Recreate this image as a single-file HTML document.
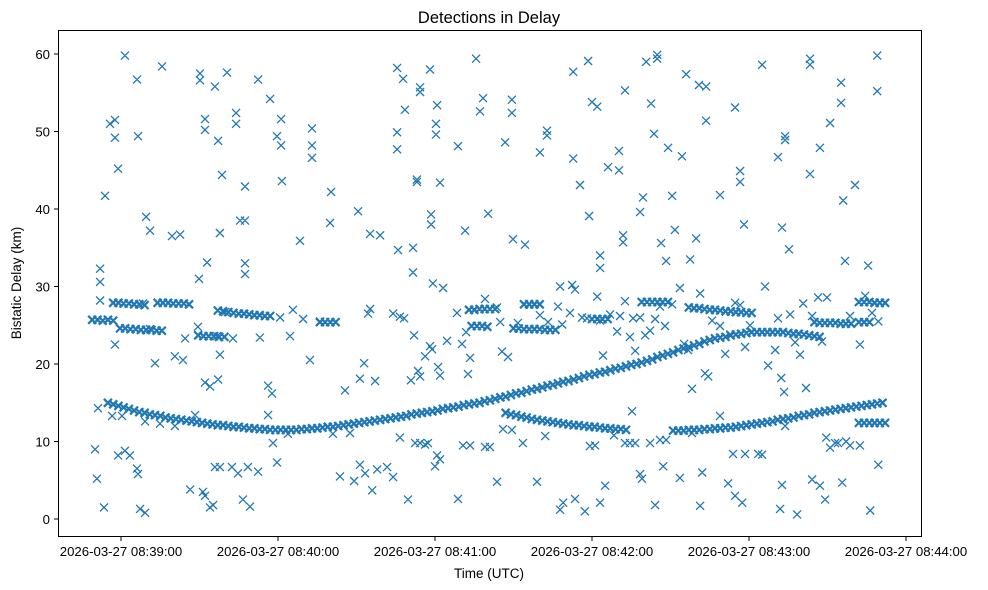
<!DOCTYPE html>
<html><head><meta charset="utf-8"><style>
body{margin:0;background:#fff}
svg{display:block;font-family:"Liberation Sans","DejaVu Sans",sans-serif}
</style></head><body>
<svg id="chart" width="988" height="590" viewBox="0 0 988 590">
<rect width="988" height="590" fill="#fff"/>
<text x="489" y="23" text-anchor="middle" font-size="16.5" fill="#000">Detections in Delay</text>
<text x="489" y="578" text-anchor="middle" font-size="13.5" fill="#000">Time (UTC)</text>
<text x="0" y="0" transform="translate(21,283) rotate(-90)" text-anchor="middle" font-size="13.5" fill="#000">Bistatic Delay (km)</text>
<g id="marks"></g>
<g id="axes"></g>
<rect x="58.5" y="30.5" width="863" height="506" fill="none" stroke="#000" stroke-width="1"/>
</svg>
<script>
// time in seconds after 2026-03-27 08:38:00 UTC, delay in km
const xTickSeconds = [60, 120, 180, 240, 300, 360];
const xTickLabels = ["2026-03-27 08:39:00","2026-03-27 08:40:00","2026-03-27 08:41:00","2026-03-27 08:42:00","2026-03-27 08:43:00","2026-03-27 08:44:00"];
const yTicks = [0, 10, 20, 30, 40, 50, 60];
const trackStep = 2;
const trackStarts = [55, 207, 271, 342, 49, 57, 59.6, 74, 97, 89.5, 136, 193, 194, 214, 210, 240, 259, 277, 325, 342, 342];
const trackDelays = [
 [15.0,14.8,14.6,14.4,14.2,14.0,13.8, 13.7,13.5,13.4,13.3,13.1,13.0,12.9,
  12.8,12.7,12.6,12.5,12.4,12.3,12.2,12.1,12.1,12.0,11.9,11.9,11.8,11.7,11.7,11.6,11.6,11.5,11.5,
  11.5,11.5,11.5,11.5,11.6,11.6,11.7,
  11.7,11.8,11.9,11.9,12.0,12.1,12.2,12.3,12.4,12.5,12.6,12.7,12.8,
  12.9,13.0,13.1,13.2,13.3,13.5,13.6,13.7,13.8,13.9,14.0,14.2,14.3,14.4,14.5,14.7,14.8,14.9,
  15.0,15.2,15.3,15.5,15.7,15.8,16.0,16.2,16.3,16.5,16.7,16.8,17.0,17.2,17.3,17.5,17.7,17.8,18.0,18.2,
  18.4,18.6,18.7,18.9,19.0,19.2,19.4,19.5,19.7,19.9,20.0,20.2,20.4,
  20.6,20.9,21.1,21.3,21.5,21.8,22.0,22.2,22.4,22.6,22.9,
  23.1,23.3,23.4,23.5,23.7,23.8,23.9,24.0,
  24.1,24.1,24.1,24.1,24.1,24.1,24.1,24.0,23.9,23.9,23.8,23.7,23.6,23.5],
 [13.7,13.5,13.4,13.2,13.1,12.9,12.8,12.7,12.6,12.5,12.4,12.3,12.2,12.1,12.1,12.0,11.9,11.9,11.8,11.7,11.7,11.6,11.6,11.5],
 [11.4,11.4,11.4,11.5,11.5,11.5,11.6,11.6,11.7,11.7,11.8,11.8,11.9,12.0,12.1,
  12.2,12.3,12.4,12.5,12.6,12.8,12.9,13.0,13.1,13.3,13.4,13.5,13.7,
  13.8,13.9,14.0,14.1,14.2,14.3,14.4,14.5,14.6,14.7,14.8,14.9,15.0],
 [12.4,12.4,12.4,12.4,12.4,12.4],
 [25.7,25.7,25.6,25.7,25.6],
 [27.9,27.9,27.8,27.8,27.7,27.7,27.6],
 [24.6,24.6,24.5,24.5,24.4,24.4,24.4,24.3,24.3],
 [27.9,27.9,27.9,27.8,27.8,27.8,27.7],
 [26.9,26.8,26.7,26.6,26.5,26.5,26.4,26.3,26.3,26.2,26.2],
 [23.7,23.6,23.6,23.6,23.5,23.5],
 [25.4,25.4,25.4,25.4],
 [27.0,27.0,27.1,27.1,27.1,27.1],
 [24.9,24.9,24.9,24.8],
 [27.7,27.7,27.7,27.7],
 [24.6,24.6,24.5,24.5,24.5,24.5,24.4,24.4,24.4],
 [25.8,25.8,25.8,25.8],
 [28.0,28.0,28.0,28.0,28.0,28.0],
 [27.3,27.2,27.2,27.1,27.0,27.0,26.9,26.8,26.8,26.7,26.7,26.6,26.6],
 [25.4,25.3,25.3,25.3,25.3,25.2,25.2,25.2],
 [28.0,28.0,28.0,27.9,27.9,27.9],
 [25.4,25.4,25.4]
];
const noisePoints = [
 [52.0,32.3],[52.0,30.6],[52.0,28.2],[53.9,41.7],[55.8,51.0],[57.7,51.5],[57.7,49.2],[58.9,45.2],[61.5,59.8],[66.1,56.7],[66.5,49.4],[69.6,39.0],[71.1,37.2],[75.7,58.4],[79.5,36.5],[82.6,36.7],
 [90.2,57.5],[90.2,56.6],[92.1,51.6],[92.1,50.2],[92.9,33.1],[89.8,31.0],[95.9,55.8],[97.1,48.8],[97.8,36.9],[98.6,44.4],[100.5,57.6],[104.0,51.0],[104.0,52.4],[105.5,38.5],[107.4,42.9],[107.4,38.5],[107.4,33.0],[107.4,31.6],
 [112.4,56.7],[117.0,54.2],[119.6,49.4],[121.2,51.6],[121.2,48.2],[121.5,43.6],[128.4,35.9],[133.0,50.4],[133.0,48.2],[133.0,46.6],[139.9,38.2],[140.3,42.2],[150.6,39.7],[155.2,36.8],[159.0,36.6],
 [165.5,58.2],[165.5,49.9],[165.5,47.7],[167.8,56.8],[168.5,52.8],[165.9,34.7],[171.6,35.0],[171.6,31.8],[173.1,43.8],[173.1,43.5],[174.3,55.7],[174.3,55.1],[178.1,58.0],[178.5,39.3],[178.5,38.0],[180.4,51.0],[180.4,49.6],[180.8,53.4],[181.9,43.4],[179.2,30.4],[183.1,29.8],
 [188.8,48.1],[191.5,37.2],[195.7,59.4],[197.2,52.6],[198.4,54.3],[200.3,39.4],[206.8,48.6],[209.4,54.1],[209.4,52.4],[209.8,36.1],[214.4,35.4],[220.1,47.3],[222.8,49.5],[222.8,50.1],[227.8,30.0],
 [232.8,57.7],[232.8,46.5],[235.4,43.1],[238.5,59.1],[238.9,39.1],[240.0,53.8],[242.0,53.2],[243.1,32.4],[243.1,34.0],[246.1,45.4],[250.3,45.0],[250.3,47.5],[251.9,36.6],[251.9,35.7],[252.6,55.3],
 [258.4,39.6],[259.5,41.5],[260.7,59.0],[262.6,53.6],[263.7,49.7],[264.9,59.4],[264.9,59.9],[266.4,35.6],[268.3,33.3],[269.1,47.9],[270.6,41.7],[271.7,37.3],[274.4,46.8],[276.0,57.4],[277.5,33.5],[279.8,36.2],[280.9,56.0],[283.6,55.8],[283.6,51.4],
 [288.9,41.8],[294.7,53.1],[296.6,44.9],[296.6,43.5],[298.1,38.0],[305.0,58.6],[311.1,46.7],[312.6,37.6],[313.8,48.9],[313.8,49.4],[315.3,34.8],[323.3,59.4],[323.3,58.6],[323.3,44.5],[327.1,47.9],[331.0,51.1],[335.2,56.3],[335.2,53.7],[336.0,41.1],[336.7,33.3],[340.5,43.1],[345.5,32.7],[349.0,59.8],[349.0,55.2],
 [57.7,22.5],[68.4,27.8],[71.1,24.5],[73.0,20.1],[80.6,21.0],[83.7,20.5],[84.5,23.3],[89.4,24.8],[92.1,17.6],[94.0,17.1],[96.7,23.6],[97.1,18.0],[97.8,21.2],[99.8,26.7],[102.8,23.3],[113.1,23.4],[116.2,17.2],[117.7,16.2],[120.8,26.0],[124.6,23.6],[125.7,27.0],[129.6,25.8],[132.2,20.5],[136.1,25.5],
 [145.6,16.6],[151.3,18.1],[152.9,20.1],[154.4,26.5],[155.2,27.1],[157.1,17.8],[164.0,26.5],[166.6,26.1],[168.2,25.9],[170.8,17.9],[172.0,23.7],[173.5,19.1],[174.3,18.4],[176.2,21.0],[178.1,22.3],[178.9,21.9],[181.2,19.6],[181.9,18.5],[184.6,23.0],[188.4,26.6],[190.3,22.6],[191.9,24.1],[192.6,18.7],[193.4,20.8],
 [199.1,28.4],[203.7,27.3],[204.9,25.4],[205.6,21.6],[207.9,20.9],[211.7,25.3],[220.1,26.3],[223.2,25.4],[227.0,27.4],[228.6,25.1],[231.6,26.6],[232.4,30.2],[233.5,29.6],[236.2,26.0],[238.1,25.9],[242.0,28.7],[243.1,25.6],[244.2,21.1],[246.9,26.4],[249.6,24.2],[250.7,26.2],[252.6,28.1],[254.5,23.5],[255.7,25.9],[256.5,21.7],
 [258.4,26.0],[260.3,23.7],[262.2,24.3],[264.1,25.8],[266.0,27.4],[267.9,24.9],[270.6,27.7],[273.6,29.8],[275.2,22.6],[276.7,21.8],[278.2,16.8],[281.3,29.1],[283.2,18.8],[284.4,18.4],[285.9,25.6],[288.9,24.9],[290.9,21.3],[292.8,23.8],[294.7,27.9],[296.6,27.6],[298.5,22.2],[300.4,25.0],
 [306.1,30.0],[307.3,19.8],[310.0,21.8],[311.1,25.9],[312.3,18.2],[313.4,16.4],[315.7,26.4],[317.6,22.8],[319.5,21.2],[320.7,27.8],[321.8,16.9],[324.1,26.2],[326.4,28.6],[327.9,22.9],[329.8,28.6],[338.6,26.2],[342.4,22.5],[344.4,28.8],[347.0,26.6],[349.4,25.5],
 [50.1,9.0],[50.8,5.2],[51.2,14.3],[53.5,1.5],[56.6,13.3],[58.9,8.2],[60.4,13.3],[61.5,8.8],[63.4,8.2],[66.1,6.5],[66.5,5.8],[67.3,1.3],[69.2,0.8],[69.2,12.6],[74.9,12.3],[80.6,12.0],[86.4,3.8],[88.3,13.4],[91.3,3.5],[92.1,3.0],[94.0,1.5],[95.2,1.8],[95.9,6.7],[97.8,6.7],[102.4,6.7],[104.7,5.9],[106.6,2.5],[108.5,6.7],[109.3,1.6],[112.4,6.1],
 [116.2,13.4],[118.1,9.8],[119.6,7.3],[123.8,11.0],[141.0,11.0],[143.7,5.5],[147.5,11.1],[149.1,4.9],[151.3,7.0],[153.3,5.9],[156.0,3.7],[157.9,6.4],[161.7,6.7],[164.0,5.4],[166.6,10.5],[169.7,2.5],[172.4,9.8],[174.3,9.8],[176.2,9.6],[177.3,9.8],[180.0,6.8],[180.8,8.2],[181.9,7.7],
 [188.8,2.6],[190.7,9.5],[193.4,9.5],[199.1,9.3],[201.0,9.3],[203.7,4.8],[206.0,11.6],[209.4,11.5],[213.6,9.8],[219.0,4.8],[222.1,10.7],[227.8,1.2],[229.0,2.1],[233.5,2.6],[237.3,1.0],[239.2,9.4],[241.2,9.5],[243.1,2.1],[245.0,4.3],[248.4,10.8],[252.6,9.8],[254.5,9.8],[255.3,13.9],[256.5,9.8],
 [258.4,5.8],[259.1,5.2],[262.2,9.8],[264.1,1.8],[266.0,10.2],[267.2,6.8],[268.3,10.2],[273.6,5.3],[278.2,11.1],[281.3,1.7],[282.1,6.0],[288.9,13.3],[292.0,4.6],[293.9,8.4],[294.7,3.0],[297.4,2.1],[298.5,8.4],[303.5,8.4],[305.0,8.3],
 [311.9,1.3],[312.6,4.4],[313.8,12.0],[318.4,0.6],[324.1,5.1],[327.1,4.3],[329.1,2.5],[329.5,10.5],[331.0,9.2],[332.9,9.8],[334.0,9.8],[335.6,4.7],[337.1,10.0],[338.6,9.5],[342.4,9.5],[346.3,1.1],[349.4,7.0]
];

const NS = "http://www.w3.org/2000/svg";
const X0 = 121, PX_PER_S = 157 / 60, Y0 = 519, PX_PER_KM = 7.75;
function xScale(t) { return X0 + (t - 60) * PX_PER_S; }
function yScale(v) { return Y0 - v * PX_PER_KM; }

const marks = document.getElementById("marks");
const axes = document.getElementById("axes");
const R = 4;
function markPath(t, v) {
  const x = xScale(t), y = yScale(v);
  return `M${(x-R).toFixed(1)},${(y-R).toFixed(1)}L${(x+R).toFixed(1)},${(y+R).toFixed(1)}M${(x-R).toFixed(1)},${(y+R).toFixed(1)}L${(x+R).toFixed(1)},${(y-R).toFixed(1)}`;
}
let trackD = "";
trackDelays.forEach((vals, i) => {
  vals.forEach((v, j) => { trackD += markPath(trackStarts[i] + j * trackStep, v); });
});
let noiseD = "";
noisePoints.forEach(p => { noiseD += markPath(p[0], p[1]); });

const trackPath = document.createElementNS(NS, "path");
trackPath.setAttribute("d", trackD);
trackPath.setAttribute("stroke", "#1f77b4");
trackPath.setAttribute("stroke-width", "2.2");
trackPath.setAttribute("fill", "none");


marks.appendChild(trackPath);

const noisePath = document.createElementNS(NS, "path");
noisePath.setAttribute("d", noiseD);
noisePath.setAttribute("stroke", "#1f77b4");
noisePath.setAttribute("stroke-width", "1.3");
noisePath.setAttribute("fill", "none");


marks.appendChild(noisePath);

xTickSeconds.forEach((t, i) => {
  const x = xScale(t);
  const ln = document.createElementNS(NS, "line");
  ln.setAttribute("x1", x); ln.setAttribute("x2", x);
  ln.setAttribute("y1", 536.5); ln.setAttribute("y2", 541);
  ln.setAttribute("stroke", "#000");
  
  
  axes.appendChild(ln);
  const tx = document.createElementNS(NS, "text");
  tx.setAttribute("x", x); tx.setAttribute("y", 556);
  tx.setAttribute("text-anchor", "middle");
  tx.setAttribute("font-size", "13.2");
  tx.textContent = xTickLabels[i];
  
  
  axes.appendChild(tx);
});
yTicks.forEach(v => {
  const y = yScale(v);
  const ln = document.createElementNS(NS, "line");
  ln.setAttribute("x1", 54); ln.setAttribute("x2", 58.5);
  ln.setAttribute("y1", y); ln.setAttribute("y2", y);
  ln.setAttribute("stroke", "#000");
  
  
  axes.appendChild(ln);
  const tx = document.createElementNS(NS, "text");
  tx.setAttribute("x", 50); tx.setAttribute("y", y + 4.8);
  tx.setAttribute("text-anchor", "end");
  tx.setAttribute("font-size", "13.2");
  tx.textContent = String(v);
  
  
  axes.appendChild(tx);
});
</script>
</body></html>
